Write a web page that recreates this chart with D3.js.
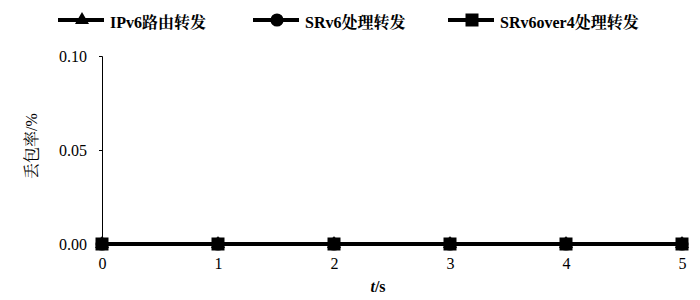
<!DOCTYPE html>
<html><head><meta charset="utf-8">
<script src="https://cdn.jsdelivr.net/npm/d3@7"></script>
<style>body{margin:0;background:#fff}</style>
</head><body>
<svg id="c" width="700" height="300"></svg>
<script>
const times = [0, 1, 2, 3, 4, 5];
const ipv6 = [0, 0, 0, 0, 0, 0];
const srv6 = [0, 0, 0, 0, 0, 0];
const srv6over4 = [0, 0, 0, 0, 0, 0];
const seriesNames = ["IPv6路由转发", "SRv6处理转发", "SRv6over4处理转发"];
const yTicks = [0, 0.05, 0.10];

const svg = d3.select("#c");
const serif = '"Liberation Serif","Noto Serif CJK SC",serif';
const x = d3.scaleLinear().domain([0, 5]).range([102, 682]);
const y = d3.scaleLinear().domain([0, 0.10]).range([244, 56]);

// y axis
const ya = svg.append("g").attr("transform", "translate(102,0)")
  .call(d3.axisLeft(y).tickValues(yTicks).tickFormat(d3.format(".2f")).tickSize(3).tickPadding(12));
ya.select(".domain").attr("stroke", "#000").attr("stroke-width", 1);
ya.selectAll("text").style("font-family", serif).style("font-size", "16px").attr("fill", "#000");

// x axis labels
const xa = svg.append("g").attr("transform", "translate(0,244)")
  .call(d3.axisBottom(x).tickValues(times).tickFormat(d3.format("d")).tickSize(0).tickPadding(14));
xa.select(".domain").remove();
xa.selectAll("text").style("font-family", serif).style("font-size", "16px").attr("fill", "#000");

svg.append("text").attr("x", 378).attr("y", 292).attr("text-anchor", "middle").attr("fill", "#000")
  .style("font-family", serif).style("font-size", "16px").style("font-weight", "bold")
  .html("<tspan font-style='italic'>t</tspan>/s");

svg.append("text").attr("transform", "translate(37,146) rotate(-90)").attr("text-anchor", "middle").attr("fill", "#000")
  .style("font-family", serif).style("font-size", "16px").text("丢包率/%");

const all = [ipv6, srv6, srv6over4];
const line = d3.line().x((d, i) => x(times[i])).y(d => y(d));
const symbols = [d3.symbolTriangle, d3.symbolCircle, d3.symbolSquare];
const sizes = [85, 135, 169];

all.forEach((vals, k) => {
  svg.append("path").datum(vals).attr("d", line).attr("fill", "none").attr("stroke", "#000").attr("stroke-width", 4);
  svg.append("g").selectAll("path").data(vals).join("path")
    .attr("transform", (d, i) => `translate(${x(times[i])},${y(d)})`)
    .attr("d", d3.symbol().type(symbols[k]).size(sizes[k])).attr("fill", "#000");
});

// legend
const legX = [58, 253, 448];
const legend = svg.append("g");
seriesNames.forEach((n, k) => {
  const g = legend.append("g").attr("transform", `translate(${legX[k]},20)`);
  g.append("line").attr("x1", 0).attr("x2", 46).attr("stroke", "#000").attr("stroke-width", 4);
  g.append("path").attr("transform", "translate(24,0)").attr("d", d3.symbol().type(symbols[k]).size(sizes[k])).attr("fill", "#000");
  g.append("text").attr("x", 52).attr("y", 8).attr("fill", "#000").style("font-family", serif).style("font-size", "16px").style("font-weight", "bold").text(n);
});
</script>
</body></html>
